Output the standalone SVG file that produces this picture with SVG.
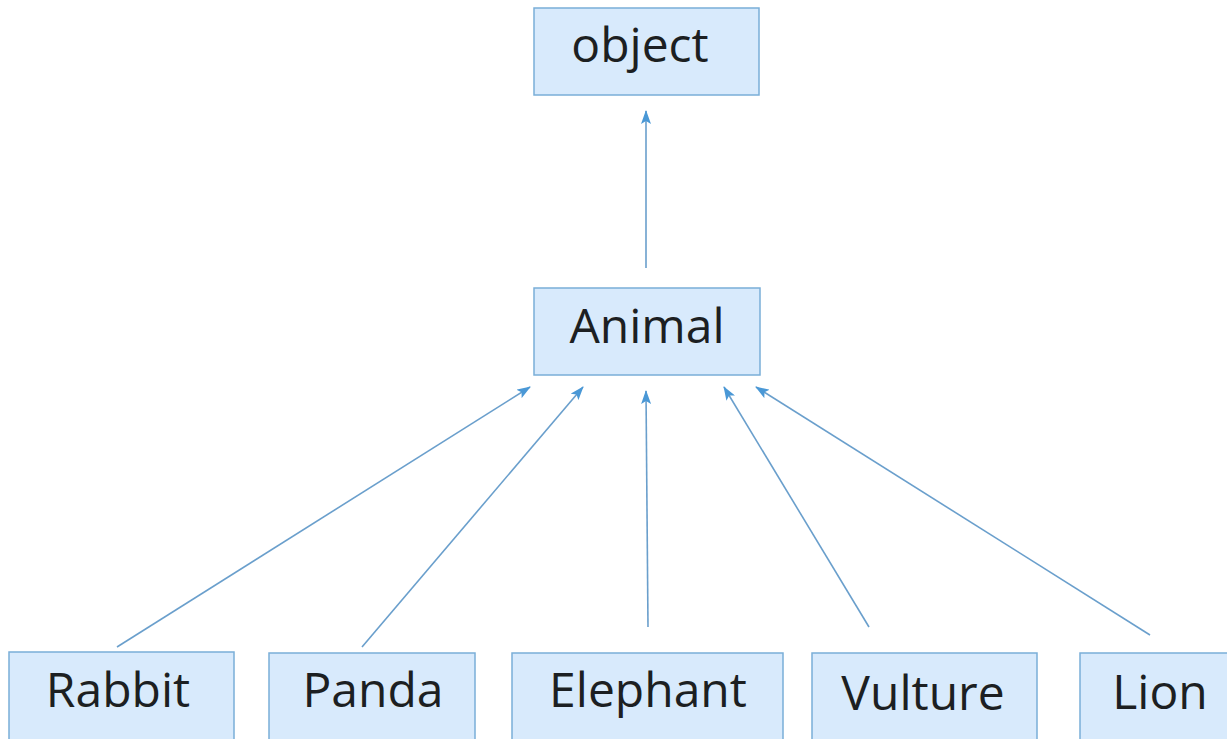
<svg xmlns="http://www.w3.org/2000/svg" width="1227" height="739" viewBox="0 0 1227 739">
<style>
.box{fill:#d8eafc;stroke:#7aaed8;stroke-width:1.5}
.lbl{font-family:"Open Sans","Liberation Sans",sans-serif;font-size:48px;font-weight:500;fill:#1c1f22;text-anchor:middle}
.edge{stroke:#6a9fcc;stroke-width:1.6;fill:none;marker-end:url(#ah)}
</style>
<defs>
<marker id="ah" viewBox="0 0 14 10" refX="13" refY="5" markerWidth="14" markerHeight="10" markerUnits="userSpaceOnUse" orient="auto">
<path d="M0,0 L14,5 L0,10 L3,5 Z" fill="#4a98d6"/>
</marker>
</defs>
<rect width="1227" height="739" fill="#ffffff"/>
<g id="connectors">
<line class="edge" x1="646" y1="268" x2="646" y2="111"/>
<line class="edge" x1="117" y1="647" x2="530" y2="387"/>
<line class="edge" x1="362" y1="647" x2="583" y2="387"/>
<line class="edge" x1="648" y1="627" x2="646" y2="391"/>
<line class="edge" x1="869" y1="627" x2="724" y2="387"/>
<line class="edge" x1="1150" y1="635" x2="756" y2="387"/>
</g>
<g id="object"><rect class="box" x="534" y="8" width="225" height="87"/><text class="lbl" x="640" y="62">object</text></g>
<g id="animal"><rect class="box" x="534" y="288" width="226" height="87"/><text class="lbl" x="647" y="343">Animal</text></g>
<g id="rabbit"><rect class="box" x="9" y="652" width="225" height="100"/><text class="lbl" x="118" y="707">Rabbit</text></g>
<g id="panda"><rect class="box" x="269" y="653" width="206" height="100"/><text class="lbl" x="373" y="707">Panda</text></g>
<g id="elephant"><rect class="box" x="512" y="653" width="271" height="100"/><text class="lbl" x="648" y="707">Elephant</text></g>
<g id="vulture"><rect class="box" x="812" y="653" width="225" height="100"/><text class="lbl" x="923" y="710">Vulture</text></g>
<g id="lion"><rect class="box" x="1080" y="653" width="160" height="100"/><text class="lbl" x="1160" y="709">Lion</text></g>
</svg>
